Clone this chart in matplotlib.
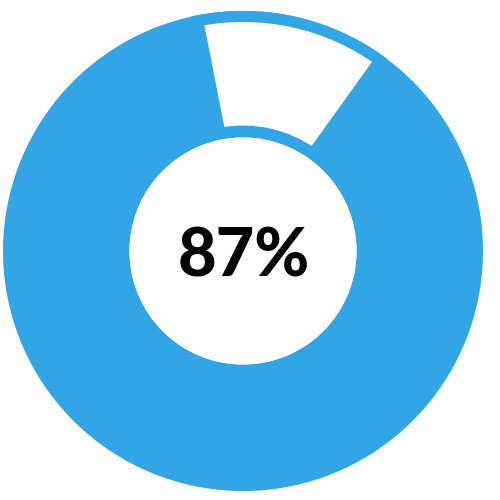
import matplotlib
matplotlib.use("Agg")
import matplotlib.pyplot as plt

# Data
labels = ["Yes", "Remainder"]
values = [87, 13]
center_label = "87%"

BLUE = "#32A5E6"

fig = plt.figure(figsize=(5, 5), dpi=100)
ax = fig.add_axes([0.006, 0.018, 0.96, 0.96])
ax.set_xlim(-1, 1)
ax.set_ylim(-1, 1)
ax.set_aspect("equal")
ax.axis("off")

# Base ring: full blue
ax.pie(values, colors=[BLUE, BLUE], radius=1.0, startangle=54.3,
       counterclock=False, wedgeprops=dict(width=0.527, linewidth=0))

# White remainder slice, inset with a blue border
wedges, _ = ax.pie(values, colors=["none", "white"], radius=0.9775,
                   startangle=54.3, counterclock=False,
                   wedgeprops=dict(width=0.478, edgecolor=BLUE, linewidth=8,
                                   joinstyle="miter"))
wedges[0].set_edgecolor("none")

# Donut hole
ax.pie([1], colors=["white"], radius=0.473, wedgeprops=dict(linewidth=0))

ax.set_xlim(-1, 1)
ax.set_ylim(-1, 1)

ax.text(0.004, -0.108, center_label, ha="center", va="baseline",
        fontsize=48, fontweight="black", family=["Lato", "DejaVu Sans"],
        color="black", zorder=5)

fig.savefig("out.png", dpi=100)
